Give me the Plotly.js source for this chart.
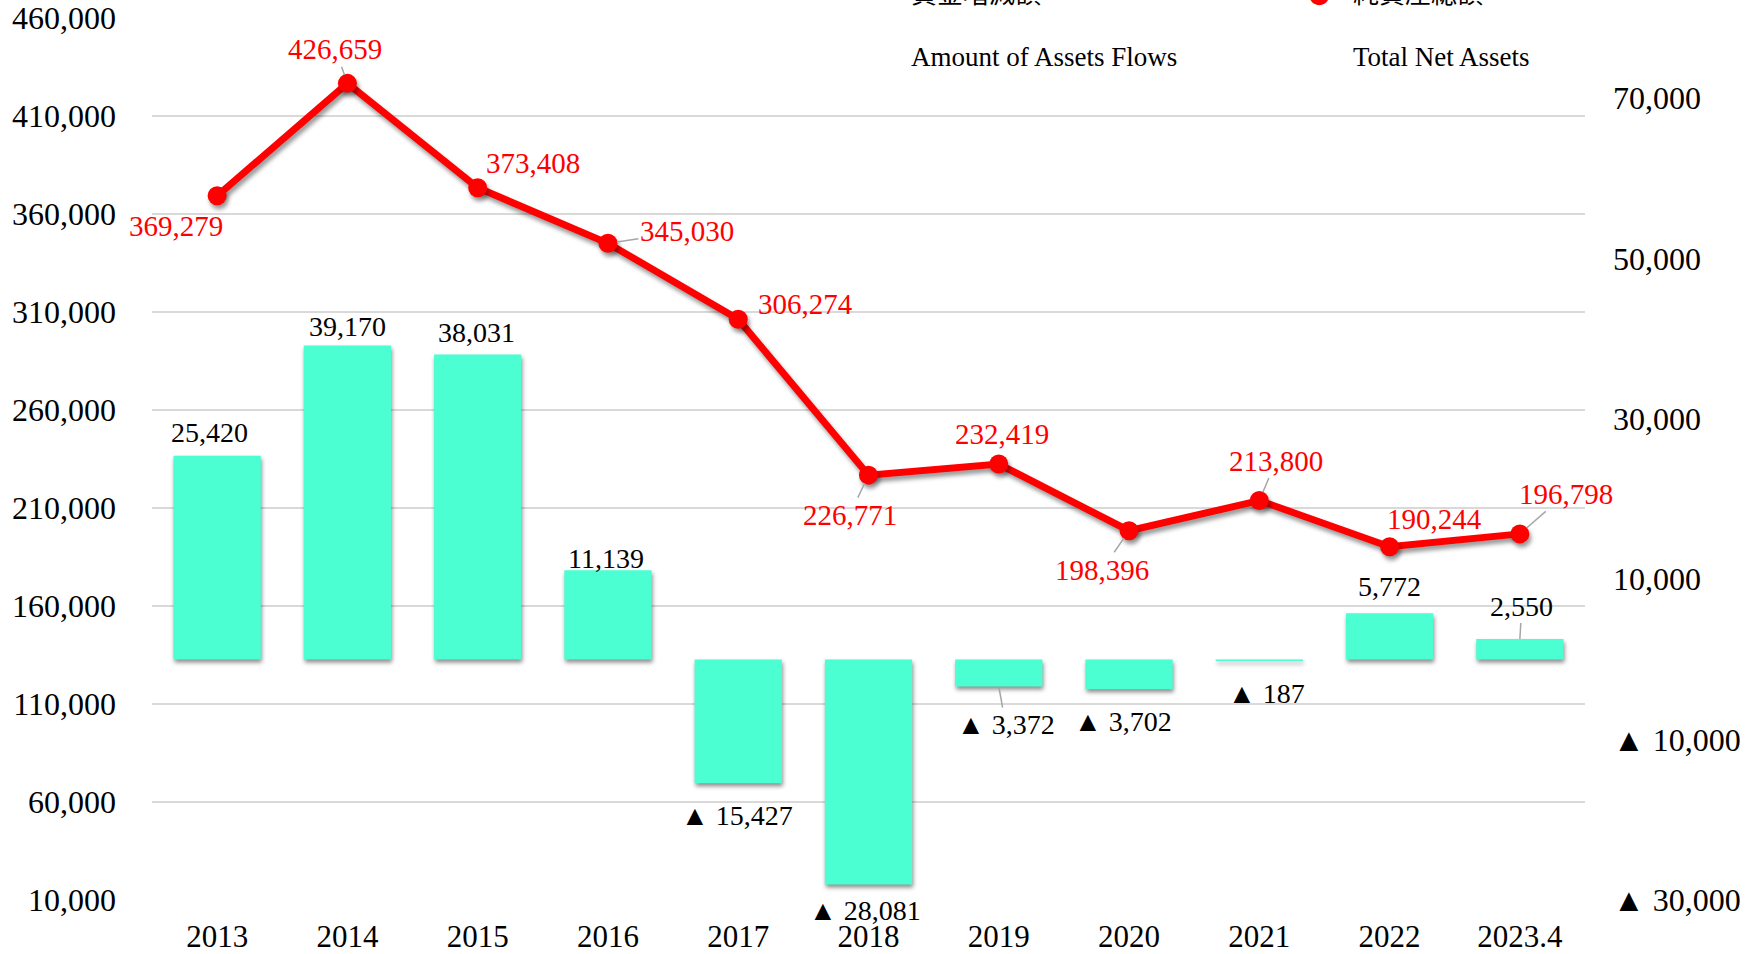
<!DOCTYPE html>
<html>
<head>
<meta charset="utf-8">
<script src="https://cdn.plot.ly/plotly-3.0.1.min.js"></script>
<style>
  html, body { margin: 0; padding: 0; background: #fff; }
  #chart { width: 1761px; height: 954px; }
  .barlayer .trace path { filter: drop-shadow(1px 3px 2px rgba(0,0,0,0.45)); }
  .scatterlayer .trace .js-line { filter: drop-shadow(2px 4px 2px rgba(0,0,0,0.4)); }
  .scatterlayer .trace .points path { filter: drop-shadow(2px 4px 2px rgba(0,0,0,0.4)); }
</style>
</head>
<body>
<div id="chart"></div>
<script>
// ---- data ----
const categories = ['2013','2014','2015','2016','2017','2018','2019','2020','2021','2022','2023.4'];
const flows = [25420, 39170, 38031, 11139, -15427, -28081, -3372, -3702, -187, 5772, 2550];
const netAssets = [369279, 426659, 373408, 345030, 306274, 226771, 232419, 198396, 213800, 190244, 196798];

const leftTickVals = [10000, 60000, 110000, 160000, 210000, 260000, 310000, 360000, 410000, 460000];
const rightTickVals = [-30000, -10000, 10000, 30000, 50000, 70000];
const rightTickText = ['▲ 30,000', '▲ 10,000', '10,000', '30,000', '50,000', '70,000'];

const legendJa = ['資金増減額', '純資産総額'];
const legendEn = ['Amount of Assets Flows', 'Total Net Assets'];

// ---- label placement (pixel offsets from each mark) ----
const flowLabelDX = [-8, 0, -1, -2, -1, -4, 7, -6, 7, 0, 2];
const flowLabelDY = [-23, -19, -22, -12, 32, 26, 38, 32, 33, -27, -33];
const flowLeader  = [false,false,false,false,false,false,true,false,false,false,true];
const netLabelDX = [-41, -12, 55, 79, 67, -19, 3, -27, 17, 45, 46];
const netLabelDY = [30, -34, -25, -12, -15, 40, -30, 39, -40, -28, -40];
const netLeader  = [false,true,false,true,false,true,false,true,true,false,true];

const SERIF = '"Liberation Serif", "Times New Roman", serif';
const fmt = v => Math.abs(v).toLocaleString('en-US');
const flowText = v => (v < 0 ? '▲ ' : '') + fmt(v);

const traces = [
  {
    type: 'bar', x: categories, y: flows, yaxis: 'y',
    marker: { color: '#4BFFD2', line: { width: 0 } },
    name: legendJa[0], showlegend: false, hoverinfo: 'skip'
  },
  {
    type: 'scatter', mode: 'lines+markers', x: categories, y: netAssets, yaxis: 'y2',
    line: { color: '#FF0000', width: 7 },
    marker: { color: '#FF0000', size: 19 },
    name: legendJa[1], showlegend: false, hoverinfo: 'skip'
  }
];

const annotations = [];
categories.forEach((c, i) => {
  annotations.push({
    x: i, y: flows[i], xref: 'x', yref: 'y',
    text: flowText(flows[i]),
    showarrow: true, arrowhead: 0, arrowwidth: 1.5,
    arrowcolor: flowLeader[i] ? '#A6A6A6' : 'rgba(0,0,0,0)',
    ax: flowLabelDX[i], ay: flowLabelDY[i], standoff: 0,
    font: { family: SERIF, size: 28, color: '#000' }
  });
  annotations.push({
    x: i, y: netAssets[i], xref: 'x', yref: 'y2',
    text: fmt(netAssets[i]),
    showarrow: true, arrowhead: 0, arrowwidth: 1.5,
    arrowcolor: netLeader[i] ? '#A6A6A6' : 'rgba(0,0,0,0)',
    ax: netLabelDX[i], ay: netLabelDY[i], standoff: 9,
    font: { family: SERIF, size: 29, color: '#FF0000' }
  });
});

// legend texts (top row partly outside the page, as in the reference)
const legX = [0.5285, 0.8365];
legendJa.forEach((t, i) => {
  annotations.push({
    xref: 'paper', yref: 'paper', x: legX[i], y: 1.0306, xanchor: 'left', yanchor: 'middle',
    text: t, showarrow: false,
    font: { family: '"Noto Sans CJK JP", sans-serif', size: 26, color: '#000' }
  });
});
legendEn.forEach((t, i) => {
  annotations.push({
    xref: 'paper', yref: 'paper', x: legX[i], y: 0.9558, xanchor: 'left', yanchor: 'middle',
    text: t, showarrow: false,
    font: { family: SERIF, size: 27, color: '#000' }
  });
});
annotations.push({
  xref: 'paper', yref: 'paper', x: 0.815, y: 1.0283, xanchor: 'center', yanchor: 'middle',
  text: '●', showarrow: false,
  font: { family: '"DejaVu Sans", sans-serif', size: 26, color: '#FF0000' }
});

const layout = {
  width: 1761, height: 954,
  margin: { l: 152, r: 176, t: 18, b: 54, autoexpand: false },
  paper_bgcolor: '#fff', plot_bgcolor: '#fff',
  showlegend: false,
  bargap: 0.33,
  font: { family: SERIF, color: '#000' },
  xaxis: {
    type: 'category', range: [-0.5, categories.length - 0.5], autorange: false,
    showgrid: false, zeroline: false, showline: false,
    ticks: '', ticklabelstandoff: 15,
    tickfont: { family: SERIF, size: 31, color: '#000' }
  },
  yaxis: {
    side: 'right', range: [-30000, 80000], autorange: false,
    tickmode: 'array', tickvals: rightTickVals, ticktext: rightTickText,
    showgrid: false, zeroline: false, showline: false, ticks: '',
    ticklabelstandoff: 27,
    tickfont: { family: SERIF, size: 32, color: '#000' }
  },
  yaxis2: {
    side: 'left', overlaying: 'y', range: [10000, 460000], autorange: false,
    tickmode: 'array', tickvals: leftTickVals, tickformat: ',d',
    showgrid: true, gridcolor: '#D9D9D9', gridwidth: 1.5,
    zeroline: false, showline: false, ticks: '',
    ticklabelstandoff: 35,
    tickfont: { family: SERIF, size: 32, color: '#000' }
  },
  annotations: annotations
};

Plotly.newPlot('chart', traces, layout, { displayModeBar: false, staticPlot: true });
</script>
</body>
</html>
